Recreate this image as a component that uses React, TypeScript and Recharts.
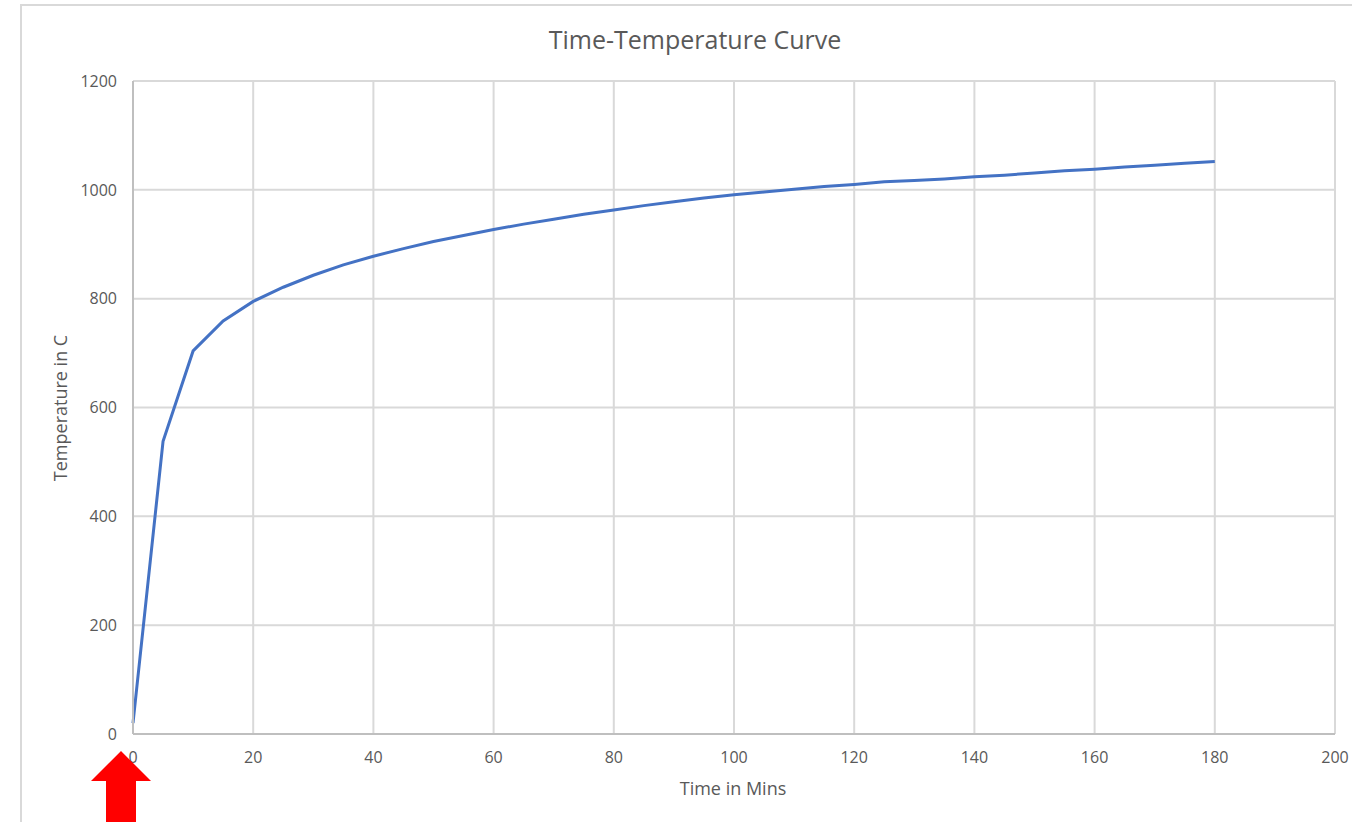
import { LineChart, Line, XAxis, YAxis, CartesianGrid } from 'recharts'

// furnace curve, sampled every 5 minutes
const minutes = [
    0, 5, 10, 15, 20, 25, 30, 35, 40, 45, 50, 55, 60, 65, 70, 75, 80, 85, 90, 95, 100, 105, 110, 115, 120, 125,
    130, 135, 140, 145, 150, 155, 160, 165, 170, 175, 180,
]
const temperatures = [
    20, 538, 704, 759, 795, 821, 843, 862, 878, 892, 905, 916, 927, 937, 946, 955, 963, 971, 978, 985, 991, 996,
    1001, 1006, 1010, 1015, 1017, 1020, 1024, 1027, 1031, 1035, 1038, 1042, 1045, 1049, 1052,
]
const xTicks = [0, 20, 40, 60, 80, 100, 120, 140, 160, 180, 200]
const yTicks = [0, 200, 400, 600, 800, 1000, 1200]

const data = minutes.map((t, i) => ({ time: t, temp: temperatures[i] }))

const FONT = '"Open Sans", "Noto Sans", sans-serif'
const TEXT = '#595959'
const GRID = '#d9d9d9'

export default function App() {
    return (
        <div style={{ position: 'absolute', left: 0, top: 0, width: 1352, height: 822, overflow: 'hidden', background: '#fff' }}>
            {/* chart frame */}
            <div
                style={{
                    position: 'absolute',
                    left: 20,
                    top: 4,
                    width: 1400,
                    height: 900,
                    borderLeft: `2px solid ${GRID}`,
                    borderTop: `2px solid ${GRID}`,
                }}
            />
            <div style={{ position: 'absolute', left: 0, top: 0 }}>
                <LineChart width={1352} height={822} data={data} margin={{ top: 81, right: 17, left: 0, bottom: 0 }}>
                    <CartesianGrid stroke={GRID} strokeWidth={2} horizontalValues={yTicks} verticalValues={xTicks} />
                    <XAxis
                        dataKey="time"
                        type="number"
                        domain={[0, 200]}
                        ticks={xTicks}
                        height={88}
                        axisLine={{ stroke: '#bfbfbf', strokeWidth: 2 }}
                        tickLine={false}
                        tickSize={0}
                        tickMargin={18}
                        tick={{ fill: TEXT, fontSize: 16, fontFamily: FONT }}
                        interval={0}
                    />
                    <YAxis
                        type="number"
                        domain={[0, 1200]}
                        ticks={yTicks}
                        width={133}
                        axisLine={{ stroke: '#bfbfbf', strokeWidth: 2 }}
                        tickLine={false}
                        tickSize={0}
                        tickMargin={16}
                        tick={{ fill: TEXT, fontSize: 16, fontFamily: FONT }}
                        interval={0}
                    />
                    <Line
                        dataKey="temp"
                        type="linear"
                        stroke="#4472c4"
                        strokeWidth={3}
                        dot={false}
                        isAnimationActive={false}
                    />
                </LineChart>
            </div>
            {/* titles and the red marker arrow */}
            <svg width={1352} height={822} style={{ position: 'absolute', left: 0, top: 0, pointerEvents: 'none' }}>
                <text x={695} y={49} textAnchor="middle" fontSize={25} fontFamily={FONT} fill={TEXT}>
                    Time-Temperature Curve
                </text>
                <text x={733} y={795} textAnchor="middle" fontSize={18} fontFamily={FONT} fill={TEXT}>
                    Time in Mins
                </text>
                <text
                    x={0}
                    y={0}
                    transform="translate(67 408) rotate(-90)"
                    textAnchor="middle"
                    fontSize={18}
                    fontFamily={FONT}
                    fill={TEXT}
                >
                    Temperature in C
                </text>
                <polygon points="121,751 151,781 136,781 136,822 106,822 106,781 91,781" fill="#ff0000" />
            </svg>
        </div>
    )
}
